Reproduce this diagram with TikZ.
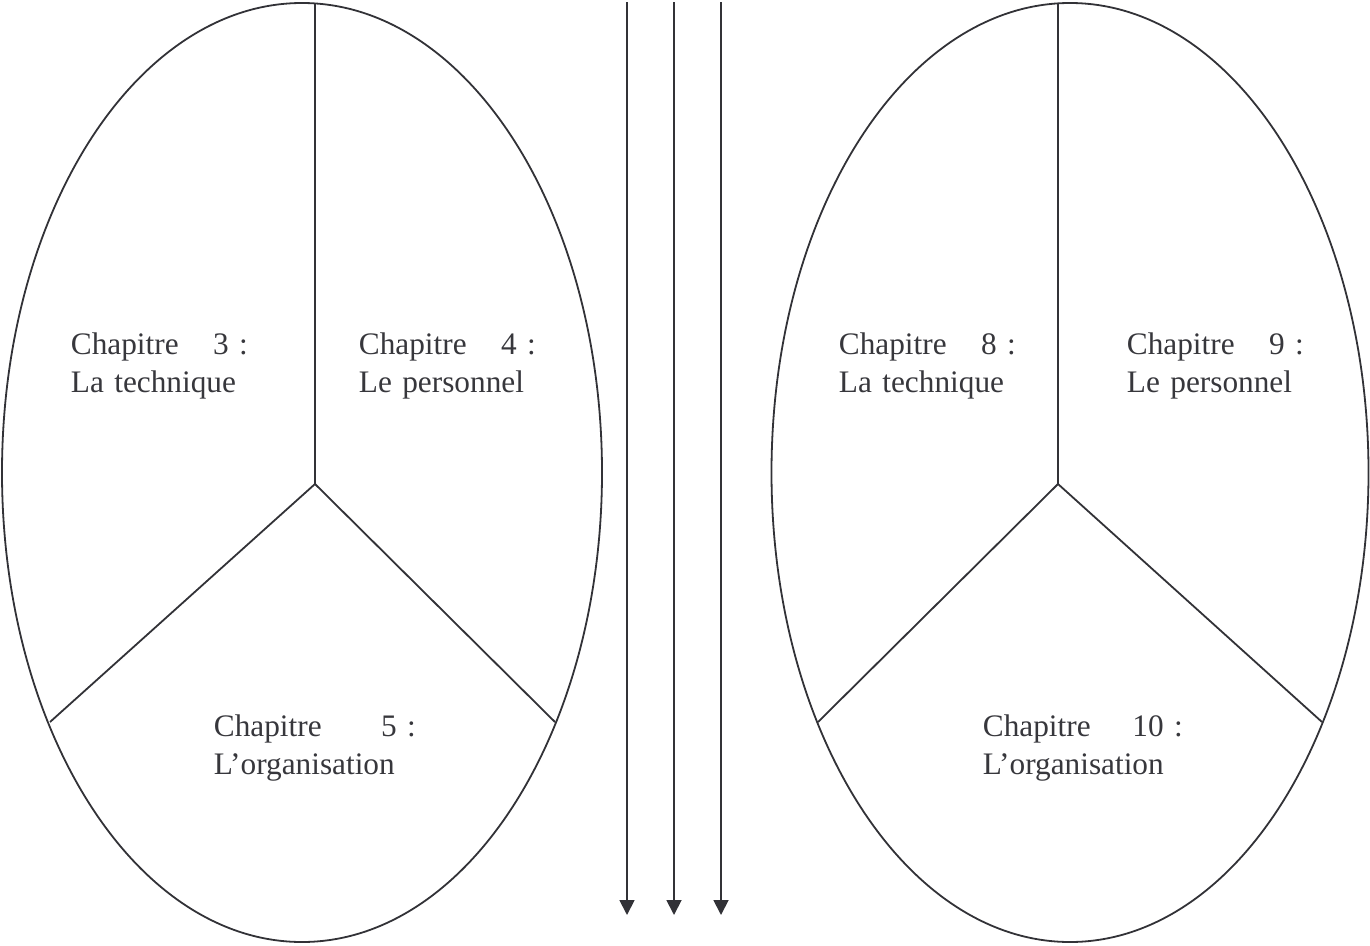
\documentclass[tikz,border=0pt]{standalone}
\usepackage{fontspec}
\setmainfont{Liberation Serif}
\usetikzlibrary{arrows.meta}
\definecolor{line_gray}{RGB}{50,50,55}
\definecolor{text_gray}{RGB}{55,55,60}

\begin{document}
\begin{tikzpicture}[x=1pt,y=-1pt,line width=1.8pt,>={Triangle[width=15pt,length=15pt]}]
    \tikzstyle{part}=[draw=line_gray]
    \tikzstyle{flow}=[->,draw=line_gray,fill=line_gray]
    \tikzstyle{chap}=[anchor=base west, inner sep=0pt, align=left, text=text_gray, font=\fontsize{31.3}{38.5}\selectfont]
    \useasboundingbox (0,0) rectangle (1370,945);

    % left oval
    \coordinate (lc)     at (302,472.5);
    \coordinate (ltop)   at (315,3.5);
    \coordinate (lhub)   at (315,484);
    \coordinate (lleft)  at (50,722);
    \coordinate (lright) at (555,722);
    \draw[part] (lc) ellipse (300 and 469.5);
    \path
     (ltop) edge[part] (lhub)
     (lhub) edge[part] (lleft)
     (lhub) edge[part] (lright)
     ;

    \node[chap, text width=177pt] (ch3) at (70,354)  {Chapitre\hfill 3 :\\La technique};
    \node[chap, text width=177pt] (ch4) at (358,354) {Chapitre\hfill 4 :\\Le personnel};
    \node[chap, text width=202pt] (ch5) at (213,736) {Chapitre\hfill 5 :\\L’organisation};

    % arrows
    \coordinate (a1s) at (627,2);
    \coordinate (a1e) at (627,915);
    \coordinate (a2s) at (674,2);
    \coordinate (a2e) at (674,915);
    \coordinate (a3s) at (721,2);
    \coordinate (a3e) at (721,915);
    \draw[flow] (a1s) -- (a1e);
    \draw[flow] (a2s) -- (a2e);
    \draw[flow] (a3s) -- (a3e);

    % right oval
    \coordinate (rc)     at (1070,472.5);
    \coordinate (rtop)   at (1058,3.5);
    \coordinate (rhub)   at (1058,484);
    \coordinate (rleft)  at (818,722);
    \coordinate (rright) at (1322,722);
    \draw[part] (rc) ellipse (298.5 and 469.5);
    \path
     (rtop) edge[part] (rhub)
     (rhub) edge[part] (rleft)
     (rhub) edge[part] (rright)
     ;

    \node[chap, text width=177pt] (ch8)  at (838,354)  {Chapitre\hfill 8 :\\La technique};
    \node[chap, text width=177pt] (ch9)  at (1126,354) {Chapitre\hfill 9 :\\Le personnel};
    \node[chap, text width=200pt] (ch10) at (982,736)  {Chapitre\hfill 10 :\\L’organisation};
\end{tikzpicture}
\end{document}
